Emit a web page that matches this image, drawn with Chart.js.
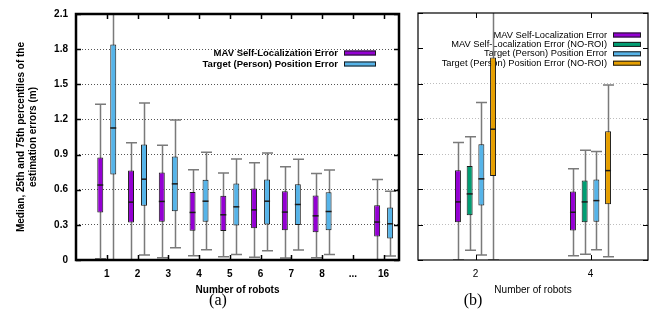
<!DOCTYPE html>
<html>
<head>
<meta charset="utf-8">
<script src="https://cdn.jsdelivr.net/npm/chart.js@4"></script>
<style>
  body { margin: 0; background: #fff; }
  #wrap { position: relative; width: 651px; height: 324px; overflow: hidden; }
  #c1 { position: absolute; left: 0; top: 0; }
  #c2 { position: absolute; left: 410px; top: 0; }
  .cap { position: absolute; top: 291px; font-family: 'Liberation Serif', serif; font-size: 16px; transform: translateX(-50%); }
</style>
</head>
<body>
<div id="wrap">
  <canvas id="c1" width="410" height="324"></canvas>
  <canvas id="c2" width="241" height="324"></canvas>
  <div class="cap" style="left:218px">(a)</div>
  <div class="cap" style="left:473px">(b)</div>
</div>
<script>
// ---- data (a) ----
const robotsA = [1, 2, 3, 4, 5, 6, 7, 8, 10];
const xTicksA = [1, 2, 3, 4, 5, 6, 7, 8, 9, 10];
const xLabelsA = ['1', '2', '3', '4', '5', '6', '7', '8', '...', '16'];

const mavMinA = [0.01, 0.0, 0.02, 0.037, 0.028, 0.023, 0.017, 0.02, 0.0];
const mavQ1A = [0.406, 0.32, 0.326, 0.25, 0.247, 0.27, 0.255, 0.236, 0.2];
const mavMedA = [0.64, 0.494, 0.5, 0.406, 0.386, 0.428, 0.409, 0.377, 0.324];
const mavQ3A = [0.874, 0.763, 0.746, 0.58, 0.548, 0.61, 0.587, 0.55, 0.468];
const mavMaxA = [1.33, 1.0, 0.98, 0.77, 0.743, 0.831, 0.797, 0.738, 0.687];

const tgtMinA = [0.0, 0.043, 0.105, 0.088, 0.048, 0.08, 0.085, 0.048, 0.034];
const tgtQ1A = [0.73, 0.463, 0.417, 0.326, 0.295, 0.304, 0.298, 0.255, 0.184];
const tgtMedA = [1.127, 0.69, 0.65, 0.502, 0.454, 0.502, 0.474, 0.414, 0.309];
const tgtQ3A = [1.84, 0.985, 0.883, 0.684, 0.653, 0.687, 0.647, 0.579, 0.448];
const tgtMaxA = [2.4, 1.34, 1.195, 0.92, 0.863, 0.914, 0.86, 0.769, 0.587];

// ---- data (b) ----
const robotsB = [2, 4];
const xTicksB = [2, 4];
const xLabelsB = ['2', '4'];

const mavMinB = [0.0, 0.037];
const mavQ1B = [0.32, 0.25];
const mavMedB = [0.494, 0.406];
const mavQ3B = [0.763, 0.582];
const mavMaxB = [1.0, 0.775];

const mavNoMinB = [0.082, 0.048];
const mavNoQ1B = [0.38, 0.32];
const mavNoMedB = [0.562, 0.494];
const mavNoQ3B = [0.8, 0.675];
const mavNoMaxB = [1.047, 0.934];

const tgtMinB = [0.043, 0.088];
const tgtQ1B = [0.463, 0.326];
const tgtMedB = [0.69, 0.505];
const tgtQ3B = [0.985, 0.684];
const tgtMaxB = [1.34, 0.922];

const tgtNoMinB = [0.0, 0.028];
const tgtNoQ1B = [0.715, 0.474];
const tgtNoMedB = [1.112, 0.76];
const tgtNoQ3B = [1.722, 1.095];
const tgtNoMaxB = [2.4, 1.487];

const yTicks = [0, 0.3, 0.6, 0.9, 1.2, 1.5, 1.8, 2.1];
const yLabels = ['0', '0.3', '0.6', '0.9', '1.2', '1.5', '1.8', '2.1'];

const PURPLE = '#9400d3', GREEN = '#009e73', BLUE = '#56b4e9', ORANGE = '#e69f00';

function boxSet(label, color, xs, q1, q3) {
  return {
    label: label,
    data: xs.map((x, i) => ({ x: x, y: [q1[i], q3[i]] })),
    backgroundColor: color,
    borderColor: '#1a1a1a',
    borderWidth: 1,
    borderSkipped: false
  };
}

// whiskers, medians, legend, frame and inward ticks
function boxPlugin(stats, leg, frame) {
  return {
    id: 'boxExtras',
    beforeDatasetsDraw(chart) {
      const { ctx, chartArea: a, scales: { y } } = chart;
      ctx.save();
      if (leg.bg) {
        ctx.fillStyle = '#fff';
        ctx.fillRect(leg.bg[0], leg.bg[1], leg.bg[2], leg.bg[3]);
      }
      ctx.font = leg.font;
      ctx.textAlign = 'right';
      ctx.textBaseline = 'middle';
      chart.data.datasets.forEach((ds, d) => {
        const yy = leg.y + d * leg.dy;
        ctx.fillStyle = '#000';
        ctx.fillText(ds.label, leg.x, yy);
        ctx.fillStyle = ds.backgroundColor;
        ctx.fillRect(leg.x + 6, yy - 2.5, leg.sw, 5);
        ctx.strokeStyle = '#1a1a1a';
        ctx.lineWidth = 1;
        ctx.strokeRect(leg.x + 6.5, yy - 2, leg.sw - 1, 4);
      });

      ctx.beginPath();
      ctx.rect(a.left, a.top, a.right - a.left, a.bottom - a.top);
      ctx.clip();
      ctx.strokeStyle = '#7a7a7a';
      ctx.lineWidth = 1.5;
      stats.forEach((s, d) => {
        chart.getDatasetMeta(d).data.forEach((bar, i) => {
          const cx = Math.round(bar.x) + 0.5;
          const top = y.getPixelForValue(s.max[i]);
          const bot = y.getPixelForValue(s.min[i]);
          ctx.beginPath();
          ctx.moveTo(cx, top); ctx.lineTo(cx, bot);
          ctx.moveTo(cx - 5.5, top); ctx.lineTo(cx + 5.5, top);
          ctx.moveTo(cx - 5.5, bot); ctx.lineTo(cx + 5.5, bot);
          ctx.stroke();
        });
      });
      ctx.restore();
    },
    afterDatasetsDraw(chart) {
      const { ctx, chartArea: a, scales: { x, y } } = chart;
      ctx.save();
      ctx.strokeStyle = '#1a1a1a';
      ctx.lineWidth = 1.5;
      stats.forEach((s, d) => {
        chart.getDatasetMeta(d).data.forEach((bar, i) => {
          const my = y.getPixelForValue(s.med[i]);
          ctx.beginPath();
          ctx.moveTo(bar.x - bar.width / 2, my);
          ctx.lineTo(bar.x + bar.width / 2, my);
          ctx.stroke();
        });
      });
      ctx.strokeStyle = '#000';
      ctx.lineWidth = frame.tick;
      ctx.beginPath();
      x.ticks.forEach(t => {
        const px = Math.round(x.getPixelForValue(t.value)) + 0.5;
        ctx.moveTo(px, a.bottom); ctx.lineTo(px, a.bottom - 5);
        ctx.moveTo(px, a.top); ctx.lineTo(px, a.top + 5);
      });
      y.ticks.forEach(t => {
        const py = Math.round(y.getPixelForValue(t.value)) + 0.5;
        ctx.moveTo(a.left, py); ctx.lineTo(a.left + 5, py);
        ctx.moveTo(a.right, py); ctx.lineTo(a.right - 5, py);
      });
      ctx.stroke();
      ctx.lineWidth = frame.width;
      ctx.strokeRect(a.left, a.top, a.right - a.left, a.bottom - a.top);
      ctx.restore();
    }
  };
}

const boldFont = { family: 'Liberation Sans', size: 10, weight: 'bold' };
const plainFont = { family: 'Liberation Sans', size: 10, weight: 'normal' };

function yScale(width, showLabels, font, gridColor, title) {
  return {
    min: 0, max: 2.1,
    afterBuildTicks: s => { s.ticks = yTicks.map(v => ({ value: v })); },
    afterFit: s => { s.width = width; },
    grid: {
      drawTicks: false,
      color: c => (c.index === 0 || c.index === yTicks.length - 1) ? 'rgba(0,0,0,0)' : gridColor,
      lineWidth: 1
    },
    border: { display: false, dash: [1, 2] },
    ticks: { display: showLabels, padding: 8, color: '#000', font: font, callback: (v, i) => yLabels[i] },
    title: title
  };
}

function xScale(min, max, ticks, labels, font) {
  return {
    type: 'linear', min: min, max: max, offset: false,
    afterBuildTicks: s => { s.ticks = ticks.map(v => ({ value: v })); },
    afterFit: s => { s.height = 36; },
    grid: { display: false, drawTicks: false, offset: false },
    border: { display: false },
    ticks: { padding: 8, autoSkip: false, maxRotation: 0, color: '#000', font: font, callback: (v, i) => labels[i] },
    title: { display: true, text: 'Number of robots', color: '#000', font: font, padding: { top: 0, bottom: 0 } }
  };
}

new Chart(document.getElementById('c1'), {
  type: 'bar',
  data: {
    datasets: [
      boxSet('MAV Self-Localization Error', PURPLE, robotsA, mavQ1A, mavQ3A),
      boxSet('Target (Person) Position Error', BLUE, robotsA, tgtQ1A, tgtQ3A)
    ]
  },
  options: {
    responsive: false,
    animation: false,
    layout: { padding: { top: 13, right: 11, bottom: 28, left: 0 } },
    datasets: { bar: { categoryPercentage: 0.845, barPercentage: 0.46 } },
    plugins: { legend: { display: false }, tooltip: { enabled: false } },
    scales: {
      x: xScale(0, 10.5, xTicksA, xLabelsA, boldFont),
      y: yScale(76, true, boldFont, '#555', {
        display: true,
        text: ['Median, 25th and 75th percentiles of the', 'estimation errors (m)'],
        color: '#000', font: boldFont, padding: { top: 15, bottom: 0 }
      })
    }
  },
  plugins: [boxPlugin([
    { min: mavMinA, med: mavMedA, max: mavMaxA },
    { min: tgtMinA, med: tgtMedA, max: tgtMaxA }
  ], { x: 338, y: 53, dy: 11, sw: 32, font: 'bold 9.5px "Liberation Sans"', bg: null }, { width: 2.5, tick: 1.5 })]
});

new Chart(document.getElementById('c2'), {
  type: 'bar',
  data: {
    datasets: [
      boxSet('MAV Self-Localization Error', PURPLE, robotsB, mavQ1B, mavQ3B),
      boxSet('MAV Self-Localization Error (NO-ROI)', GREEN, robotsB, mavNoQ1B, mavNoQ3B),
      boxSet('Target (Person) Position Error', BLUE, robotsB, tgtQ1B, tgtQ3B),
      boxSet('Target (Person) Position Error (NO-ROI)', ORANGE, robotsB, tgtNoQ1B, tgtNoQ3B)
    ]
  },
  options: {
    responsive: false,
    animation: false,
    layout: { padding: { top: 13, right: 3, bottom: 28, left: 0 } },
    datasets: { bar: { categoryPercentage: 0.407, barPercentage: 0.51 } },
    plugins: { legend: { display: false }, tooltip: { enabled: false } },
    scales: {
      x: xScale(1, 5, xTicksB, xLabelsB, plainFont),
      y: yScale(8, false, plainFont, '#bdbdbd', { display: false })
    }
  },
  plugins: [boxPlugin([
    { min: mavMinB, med: mavMedB, max: mavMaxB },
    { min: mavNoMinB, med: mavNoMedB, max: mavNoMaxB },
    { min: tgtMinB, med: tgtMedB, max: tgtMaxB },
    { min: tgtNoMinB, med: tgtNoMedB, max: tgtNoMaxB }
  ], { x: 197, y: 35, dy: 9.4, sw: 28, font: '9.3px "Liberation Sans"', bg: [14, 28, 222, 41] }, { width: 1.2, tick: 1 })]
});
</script>
</body>
</html>
